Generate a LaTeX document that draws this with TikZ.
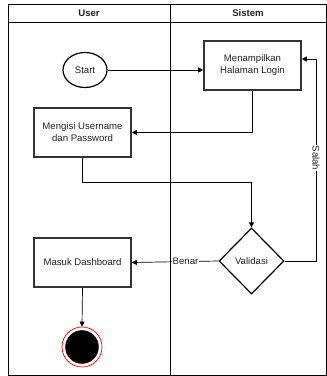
\documentclass[tikz,border=0pt]{standalone}
\usepackage{fontspec}
\setmainfont{Liberation Sans}
\usetikzlibrary{shapes.geometric,arrows.meta}
\definecolor{boxline}{HTML}{333333}
\definecolor{txt}{HTML}{222222}
\tikzset{
  every node/.style={font=\fontsize{9.6}{12}\selectfont, text=txt},
  procbox/.style={draw=boxline, line width=1.6pt, fill=white, minimum width=97pt, minimum height=49pt, align=center, inner sep=0pt},
  startnode/.style={ellipse, draw=black, line width=1.2pt, minimum width=44pt, minimum height=35pt, inner sep=0pt},
  decision/.style={diamond, draw=black, line width=1.2pt, minimum width=65pt, minimum height=66pt, inner sep=0pt, aspect=1},
  conn/.style={draw=black, line width=0.7pt},
  arr/.style={conn, -{Triangle[length=5pt,width=5pt]}},
  lbl/.style={fill=white, inner sep=0.5pt},
  lane/.style={draw=black, line width=0.8pt},
  hdr/.style={font=\fontsize{9.6}{12}\selectfont\bfseries}
}
\begin{document}
\begin{tikzpicture}[x=1pt,y=-1pt]
\useasboundingbox (0,0) rectangle (327,376);
% swimlanes
\draw[lane] (8,4) rectangle (326,375);
\draw[lane] (8,22.5) -- (326,22.5);
\draw[lane] (170,4) -- (170,375);
\node[hdr] (huser) at (89,13.5) {User};
\node[hdr] (hsis) at (248,13.5) {Sistem};
% nodes
\node[startnode] (start) at (85,70) {Start};
\node[procbox] (login) at (252.5,65.5) {Menampilkan\\Halaman Login};
\node[procbox] (mengisi) at (82.5,132.5) {Mengisi Username\\dan Password};
\node[decision] (valid) at (251.5,261) {Validasi};
\node[procbox] (masuk) at (82.5,262.5) {Masuk Dashboard};
\node[circle, draw=red, line width=0.7pt, minimum size=40pt, inner sep=0pt] (endo) at (82,347) {};
\node[circle, draw=black, fill=black, minimum size=33pt, inner sep=0pt] (endi) at (82,347) {};
% connectors
\draw[arr] (start.east) -- (start.east -| login.west);
\draw[arr] (login.south) |- (mengisi.east);
\coordinate (c1) at (82.5,182);
\draw[arr] (mengisi.south) -- (c1) -| (valid.north);
\draw[arr] (valid.west) -- node[lbl, pos=0.38] {Benar} (masuk.east);
\coordinate (c2) at (316,59);
\draw[arr] (valid.east) -| (c2) -- (c2 -| login.east);
\node[lbl, rotate=-90] (salah) at (316,158) {Salah};
\draw[arr] (masuk.south) -- (endo.north);
\end{tikzpicture}
\end{document}
